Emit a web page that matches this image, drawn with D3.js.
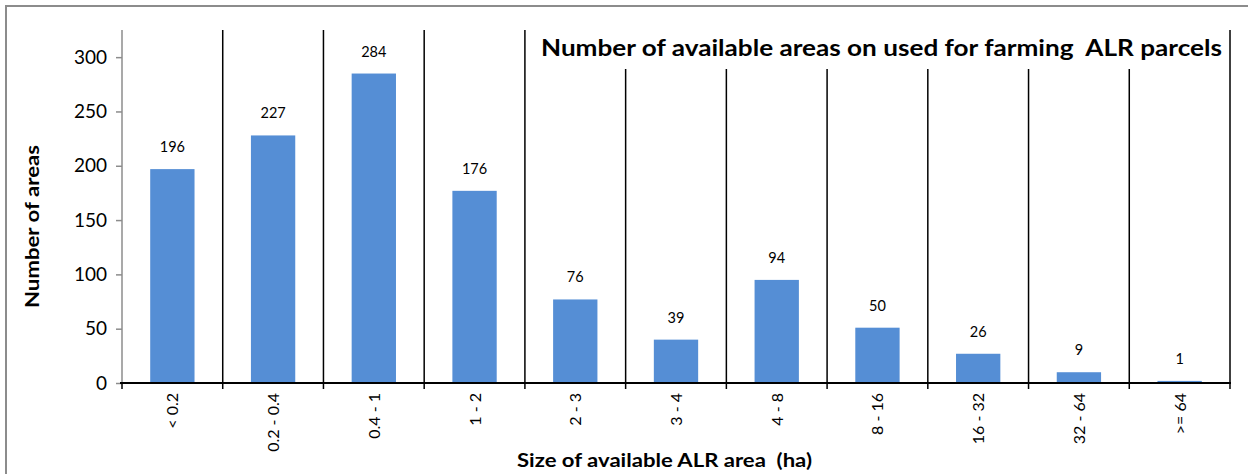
<!DOCTYPE html>
<html>
<head>
<meta charset="utf-8">
<script src="https://cdn.jsdelivr.net/npm/d3@7"></script>
<style>
  body { margin: 0; background: #fff; }
  text { font-family: Lato, "Open Sans", sans-serif; white-space: pre; }
</style>
</head>
<body>
<svg id="chart"></svg>
<script>
/* ---------- size ---------- */
var WIDTH = 1248,
    HEIGHT = 474;

/* ---------- data ---------- */
var categories = ["< 0.2", "0.2 - 0.4", "0.4 - 1", "1 - 2", "2 - 3", "3 - 4", "4 - 8", "8 - 16", "16 - 32", "32 - 64", ">= 64"];
var counts = [196, 227, 284, 176, 76, 39, 94, 50, 26, 9, 1];
var yTicks = [0, 50, 100, 150, 200, 250, 300];

var title = "Number of available areas on used for farming  ALR parcels",
    xTitle = "Size of available ALR area  (ha)",
    yTitle = "Number of areas";

/* ---------- colours ---------- */
var barColor = "#558ed5",
    borderColor = "#8c8c8c";

var margin = {left: 122, right: 18, top: 30, bottom: 91};

var svg = d3.select("#chart")
    .attr("width", WIDTH)
    .attr("height", HEIGHT);

// outer frame
svg.append("rect")
    .attr("x", 6).attr("y", 6)
    .attr("width", WIDTH + 10).attr("height", HEIGHT + 10)
    .attr("fill", "none")
    .attr("stroke", borderColor)
    .attr("stroke-width", 2);

var x = d3.scaleBand()
    .domain(categories)
    .range([margin.left, WIDTH - margin.right])
    .paddingInner(0.56)
    .paddingOuter(0.28);

var y = d3.scaleLinear()
    .domain([0, 325])
    .range([HEIGHT - margin.bottom, margin.top]);

var x0 = margin.left,
    x1 = WIDTH - margin.right;

// category separators
var seps = d3.range(1, categories.length + 1).map(function(i) { return x0 + i * (x1 - x0) / categories.length; });

svg.selectAll(".sep")
    .data(seps)
  .enter().append("line")
    .attr("class", "sep")
    .attr("x1", function(d) { return d; })
    .attr("x2", function(d) { return d; })
    .attr("y1", y.range()[1])
    .attr("y2", y(0) + 6)
    .attr("stroke", "#000")
    .attr("stroke-width", 1.5);

// bars
svg.selectAll(".bar")
    .data(counts)
  .enter().append("rect")
    .attr("class", "bar")
    .attr("x", function(d, i) { return x(categories[i]); })
    .attr("y", function(d) { return y(d) - 1; })
    .attr("width", x.bandwidth())
    .attr("height", function(d) { return y(0) - y(d) + 1; })
    .attr("fill", barColor);

// value labels
svg.selectAll(".val")
    .data(counts)
  .enter().append("text")
    .attr("class", "val")
    .attr("x", function(d, i) { return x(categories[i]) + x.bandwidth() / 2; })
    .attr("y", function(d) { return y(d) - 18; })
    .attr("text-anchor", "middle")
    .attr("font-size", 14.5)
    .attr("fill", "#000")
    .text(function(d) { return d; });

// y axis
var yAxis = svg.append("g")
    .attr("transform", "translate(" + margin.left + ",0)")
    .call(d3.axisLeft(y).tickValues(yTicks).tickSize(6).tickPadding(9));
yAxis.select(".domain")
    .attr("d", "M0," + y.range()[1] + "V" + y(0))
    .attr("stroke", borderColor)
    .attr("stroke-width", 1.5);
yAxis.selectAll(".tick line").attr("stroke", borderColor).attr("stroke-width", 1.5);
yAxis.selectAll(".tick text")
    .attr("font-size", 19)
    .attr("font-family", "Lato, sans-serif")
    .attr("fill", "#000");

// x axis
svg.append("line")
    .attr("x1", x0 - 2).attr("x2", x1 + 1)
    .attr("y1", y(0)).attr("y2", y(0))
    .attr("stroke", "#000")
    .attr("stroke-width", 2);
svg.append("line")
    .attr("x1", x0).attr("x2", x0)
    .attr("y1", y(0)).attr("y2", y(0) + 6)
    .attr("stroke", "#000")
    .attr("stroke-width", 1.5);

svg.selectAll(".xlab")
    .data(categories)
  .enter().append("text")
    .attr("class", "xlab")
    .attr("transform", function(d) {
        return "translate(" + (x(d) + x.bandwidth() / 2 + 6) + "," + (y(0) + 10) + ") rotate(-90)";
    })
    .attr("text-anchor", "end")
    .attr("font-size", 16)
    .text(function(d) { return d; });

// axis titles
svg.append("text")
    .attr("x", 517)
    .attr("y", 467)
    .attr("font-size", 19)
    .attr("font-weight", "bold")
    .attr("textLength", 295)
    .attr("lengthAdjust", "spacingAndGlyphs")
    .text(xTitle);

svg.append("text")
    .attr("transform", "translate(39,308) rotate(-90)")
    .attr("font-size", 19)
    .attr("font-weight", "bold")
    .attr("textLength", 163)
    .attr("lengthAdjust", "spacingAndGlyphs")
    .text(yTitle);

// title box covering the separators
var boxX = seps[3] + 1.5, boxW = seps[10] - seps[3] - 3;
svg.append("rect")
    .attr("x", boxX).attr("y", y.range()[1])
    .attr("width", boxW).attr("height", 39)
    .attr("fill", "#fff");
svg.append("text")
    .attr("x", 541)
    .attr("y", 56)
    .attr("font-size", 23)
    .attr("font-weight", "bold")
    .attr("textLength", 681)
    .attr("lengthAdjust", "spacingAndGlyphs")
    .text(title);
</script>
</body>
</html>
